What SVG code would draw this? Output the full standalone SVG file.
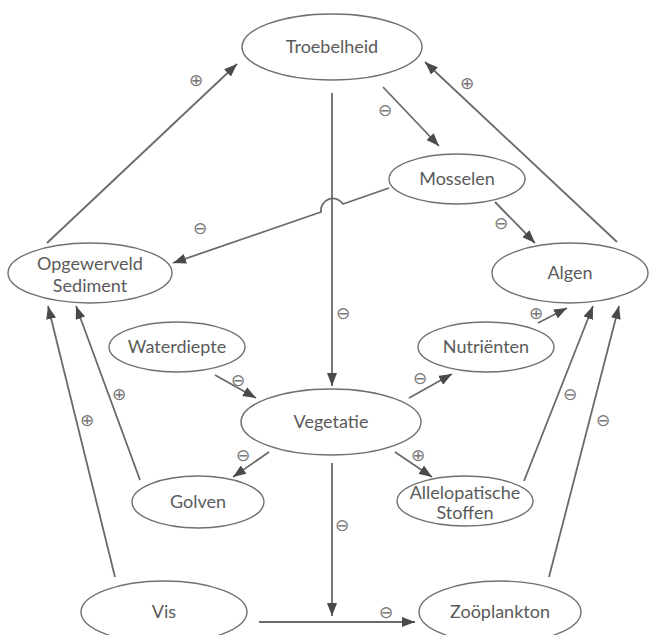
<svg xmlns="http://www.w3.org/2000/svg" width="649" height="635" viewBox="0 0 649 635">
<style>
.node ellipse{fill:#fff;stroke:#707070;stroke-width:1.4}
.node text{font-family:Lato,"Open Sans",sans-serif;font-size:18px;fill:#5a5a5a;text-anchor:middle}
.conn path,.conn line{stroke:#6a6a6a;stroke-width:1.8;fill:none}
.arr{marker-end:url(#ah)}
.sign{font-family:"DejaVu Sans",sans-serif;font-size:17px;fill:#777;text-anchor:middle;dominant-baseline:central}
</style>
<defs>
<marker id="ah" markerUnits="userSpaceOnUse" markerWidth="14" markerHeight="10" refX="13" refY="5" orient="auto">
<path d="M0,0 L13,5 L0,10 Z" fill="#4a4a4a"/>
</marker>
</defs>
<rect width="649" height="635" fill="#fff"/>
<g id="connectors" class="conn">
<line class="arr" x1="47" y1="243" x2="237" y2="64"/>
<line class="arr" x1="617" y1="242" x2="425" y2="62"/>
<line class="arr" x1="332" y1="93" x2="332" y2="386"/>
<line class="arr" x1="383" y1="87" x2="439" y2="146"/>
<path class="arr" d="M389,188 L343,204 A12,12 0 0 0 321,212 L173,263"/>
<line class="arr" x1="495" y1="202" x2="535" y2="243"/>
<line class="arr" x1="538" y1="323" x2="567" y2="308"/>
<line class="arr" x1="524" y1="481" x2="593" y2="306"/>
<line class="arr" x1="549" y1="577" x2="619" y2="306"/>
<line class="arr" x1="215" y1="375" x2="256" y2="398"/>
<line class="arr" x1="409" y1="398" x2="452" y2="374"/>
<line class="arr" x1="269" y1="452" x2="233" y2="477"/>
<line class="arr" x1="395" y1="452" x2="432" y2="477"/>
<line class="arr" x1="332" y1="463" x2="332" y2="616"/>
<line class="arr" x1="259" y1="622" x2="415" y2="622"/>
<line class="arr" x1="140" y1="480" x2="76" y2="306"/>
<line class="arr" x1="115" y1="577" x2="48" y2="306"/>
<text class="sign" x="196" y="80">⊕</text>
<text class="sign" x="467" y="83">⊕</text>
<text class="sign" x="343" y="313">⊖</text>
<text class="sign" x="385" y="110">⊖</text>
<text class="sign" x="200" y="228">⊖</text>
<text class="sign" x="501" y="223">⊖</text>
<text class="sign" x="536" y="313">⊕</text>
<text class="sign" x="570" y="394">⊖</text>
<text class="sign" x="603" y="420">⊖</text>
<text class="sign" x="238" y="380">⊖</text>
<text class="sign" x="420" y="378">⊖</text>
<text class="sign" x="243" y="455">⊖</text>
<text class="sign" x="418" y="455">⊕</text>
<text class="sign" x="342" y="525">⊖</text>
<text class="sign" x="386" y="612">⊖</text>
<text class="sign" x="119" y="394">⊕</text>
<text class="sign" x="87" y="420">⊕</text>
</g>
<g id="troebelheid" class="node"><ellipse cx="332" cy="47" rx="90" ry="33"/><text x="332" y="53">Troebelheid</text></g>
<g id="mosselen" class="node"><ellipse cx="457" cy="179" rx="68" ry="25"/><text x="457" y="185">Mosselen</text></g>
<g id="sediment" class="node"><ellipse cx="90" cy="273" rx="82" ry="30"/><text x="90" y="270">Opgewerveld</text><text x="90" y="292">Sediment</text></g>
<g id="algen" class="node"><ellipse cx="570" cy="273" rx="78" ry="30"/><text x="570" y="279">Algen</text></g>
<g id="waterdiepte" class="node"><ellipse cx="177" cy="347" rx="68" ry="25"/><text x="177" y="353">Waterdiepte</text></g>
<g id="nutrienten" class="node"><ellipse cx="486" cy="347" rx="68" ry="25"/><text x="486" y="353">Nutriënten</text></g>
<g id="vegetatie" class="node"><ellipse cx="331" cy="422" rx="90" ry="33"/><text x="331" y="428">Vegetatie</text></g>
<g id="golven" class="node"><ellipse cx="198" cy="502" rx="66" ry="26"/><text x="198" y="508">Golven</text></g>
<g id="allelopatische" class="node"><ellipse cx="465" cy="501" rx="68" ry="25"/><text x="465" y="499">Allelopatische</text><text x="465" y="519">Stoffen</text></g>
<g id="vis" class="node"><ellipse cx="164" cy="612" rx="83" ry="31"/><text x="164" y="618">Vis</text></g>
<g id="zooplankton" class="node"><ellipse cx="500" cy="612" rx="81" ry="31"/><text x="500" y="618">Zoöplankton</text></g>
</svg>
